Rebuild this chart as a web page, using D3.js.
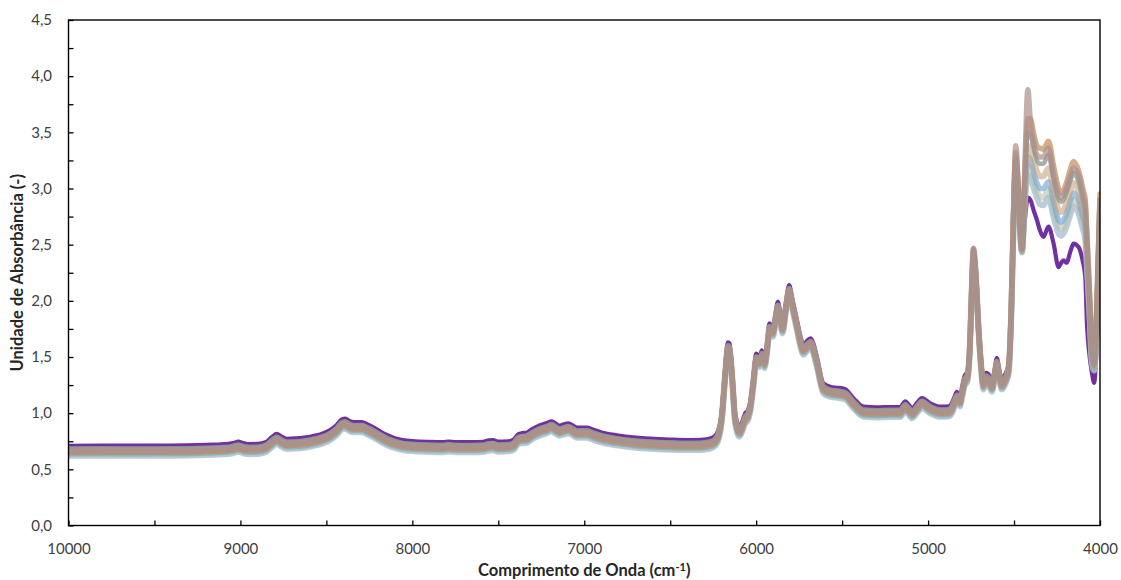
<!DOCTYPE html>
<html>
<head>
<meta charset="utf-8">
<script src="https://cdn.jsdelivr.net/npm/d3@7"></script>
<style>
  html, body { margin: 0; padding: 0; background: #fff; }
  svg { display: block; }
  text { font-family: Lato, "Open Sans", sans-serif; }
</style>
</head>
<body>
<svg id="chart" width="1121" height="580"></svg>
<script>
// Wavenumber grid (cm-1), shared by every spectrum, high to low
const wavenumbers = [
  10000,9800,9600,9400,9250,9150,9070,9040,9012,8985,
  8950,8900,8850,8815,8789,8760,8731,8680,8620,8576,
  8520,8478,8440,8410,8390,8365,8343,8294,8260,8227,
  8190,8149,8110,8071,8000,7900,7820,7790,7750,7650,
  7587,7555,7530,7500,7440,7410,7385,7360,7335,7305,
  7257,7220,7189,7165,7145,7120,7092,7065,7043,7010,
  6985,6950,6908,6811,6700,6617,6500,6400,6326,6280,
  6245,6220,6200,6180,6165,6155,6140,6122,6097,6080,
  6064,6050,6035,6016,6000,5981,5967,5952,5935,5923,
  5903,5888,5874,5860,5847,5828,5808,5790,5763,5745,
  5725,5700,5682,5665,5647,5609,5570,5520,5482,5434,
  5376,5298,5220,5162,5133,5110,5094,5065,5036,4988,
  4930,4880,4862,4845,4832,4815,4800,4788,4772,4758,
  4745,4736,4725,4707,4690,4678,4662,4650,4629,4614,
  4600,4585,4571,4550,4532,4515,4503,4490,4475,4454,
  4435,4420,4405,4385,4367,4350,4329,4300,4270,4241,
  4225,4212,4195,4170,4154,4125,4100,4086,4076,4060,
  4047,4034,4018,4000
];

// Highlighted sample (drawn in purple)
const sampleHighlight = [
  0.710,0.712,0.711,0.712,0.715,0.720,0.726,0.735,0.746,0.733,
  0.725,0.727,0.745,0.790,0.815,0.790,0.772,0.775,0.785,0.797,
  0.820,0.850,0.895,0.945,0.952,0.930,0.920,0.920,0.900,0.874,
  0.840,0.806,0.782,0.765,0.752,0.745,0.743,0.748,0.743,0.742,
  0.745,0.758,0.760,0.746,0.750,0.765,0.812,0.822,0.826,0.856,
  0.892,0.910,0.928,0.905,0.889,0.900,0.910,0.890,0.871,0.872,
  0.872,0.855,0.833,0.803,0.782,0.773,0.765,0.761,0.762,0.770,
  0.790,0.850,1.020,1.400,1.630,1.620,1.380,1.000,0.880,0.930,
  1.000,1.020,1.100,1.330,1.530,1.500,1.560,1.490,1.650,1.800,
  1.770,1.880,1.990,1.900,1.800,1.980,2.140,2.020,1.830,1.700,
  1.610,1.650,1.667,1.610,1.503,1.266,1.236,1.225,1.213,1.133,
  1.058,1.052,1.055,1.055,1.105,1.070,1.043,1.090,1.135,1.088,
  1.058,1.060,1.088,1.150,1.190,1.150,1.250,1.330,1.370,1.600,
  2.150,2.440,2.300,1.800,1.450,1.300,1.360,1.350,1.280,1.380,
  1.490,1.380,1.300,1.350,1.440,2.000,2.700,3.250,2.900,2.450,
  2.750,2.920,2.900,2.800,2.720,2.630,2.570,2.660,2.510,2.300,
  2.340,2.360,2.340,2.450,2.510,2.480,2.350,2.220,1.800,1.500,
  1.360,1.270,1.650,2.250
];

// Remaining samples of the set
const sampleA = [
  0.685,0.687,0.686,0.687,0.690,0.695,0.701,0.710,0.721,0.708,
  0.700,0.702,0.720,0.765,0.790,0.765,0.747,0.750,0.760,0.772,
  0.795,0.825,0.870,0.920,0.927,0.905,0.895,0.895,0.875,0.849,
  0.815,0.781,0.757,0.740,0.727,0.720,0.718,0.723,0.718,0.717,
  0.720,0.733,0.735,0.721,0.725,0.740,0.787,0.797,0.801,0.831,
  0.867,0.885,0.903,0.880,0.864,0.875,0.885,0.865,0.846,0.847,
  0.847,0.830,0.808,0.778,0.757,0.748,0.740,0.736,0.737,0.745,
  0.765,0.825,0.995,1.375,1.605,1.595,1.355,0.975,0.855,0.905,
  0.975,0.995,1.075,1.305,1.505,1.475,1.535,1.465,1.625,1.775,
  1.745,1.855,1.965,1.875,1.775,1.955,2.115,1.995,1.805,1.675,
  1.585,1.625,1.642,1.585,1.478,1.241,1.211,1.200,1.188,1.108,
  1.033,1.027,1.030,1.030,1.080,1.045,1.018,1.065,1.110,1.063,
  1.033,1.035,1.063,1.125,1.165,1.125,1.225,1.305,1.345,1.590,
  2.160,2.470,2.310,1.790,1.425,1.275,1.335,1.325,1.255,1.355,
  1.465,1.355,1.275,1.325,1.420,1.990,2.720,3.280,2.950,2.450,
  3.150,3.500,3.480,3.350,3.250,3.220,3.220,3.300,3.080,2.900,
  2.880,2.900,2.960,3.080,3.140,3.060,2.900,2.800,2.500,1.950,
  1.520,1.420,1.900,2.850
];

const sampleB = [
  0.665,0.667,0.666,0.667,0.670,0.675,0.681,0.690,0.701,0.688,
  0.680,0.682,0.700,0.745,0.770,0.745,0.727,0.730,0.740,0.752,
  0.775,0.805,0.850,0.900,0.907,0.885,0.875,0.875,0.855,0.829,
  0.795,0.761,0.737,0.720,0.707,0.700,0.698,0.703,0.698,0.697,
  0.700,0.713,0.715,0.701,0.705,0.720,0.767,0.777,0.781,0.811,
  0.847,0.865,0.883,0.860,0.844,0.855,0.865,0.845,0.826,0.827,
  0.827,0.810,0.788,0.758,0.737,0.728,0.720,0.716,0.717,0.725,
  0.745,0.805,0.975,1.355,1.585,1.575,1.335,0.955,0.835,0.885,
  0.955,0.975,1.055,1.285,1.485,1.455,1.515,1.445,1.605,1.755,
  1.725,1.835,1.945,1.855,1.755,1.935,2.095,1.975,1.785,1.655,
  1.565,1.605,1.622,1.565,1.458,1.221,1.191,1.180,1.168,1.088,
  1.013,1.007,1.010,1.010,1.060,1.025,0.998,1.045,1.090,1.043,
  1.013,1.015,1.043,1.105,1.145,1.105,1.205,1.285,1.325,1.570,
  2.140,2.460,2.290,1.780,1.405,1.255,1.315,1.305,1.235,1.335,
  1.445,1.335,1.255,1.305,1.400,1.990,2.780,3.380,3.000,2.460,
  3.300,3.880,3.600,3.400,3.300,3.280,3.280,3.360,3.120,2.940,
  2.920,2.940,3.000,3.120,3.180,3.120,2.950,2.850,2.550,2.000,
  1.550,1.440,1.950,2.900
];

const sampleC = [
  0.650,0.652,0.651,0.652,0.655,0.660,0.666,0.675,0.686,0.673,
  0.665,0.667,0.685,0.730,0.755,0.730,0.712,0.715,0.725,0.737,
  0.760,0.790,0.835,0.885,0.892,0.870,0.860,0.860,0.840,0.814,
  0.780,0.746,0.722,0.705,0.692,0.685,0.683,0.688,0.683,0.682,
  0.685,0.698,0.700,0.686,0.690,0.705,0.752,0.762,0.766,0.796,
  0.832,0.850,0.868,0.845,0.829,0.840,0.850,0.830,0.811,0.812,
  0.812,0.795,0.773,0.743,0.722,0.713,0.705,0.701,0.702,0.710,
  0.730,0.790,0.960,1.340,1.570,1.560,1.320,0.940,0.820,0.870,
  0.940,0.960,1.040,1.270,1.470,1.440,1.500,1.430,1.590,1.740,
  1.710,1.820,1.930,1.840,1.740,1.920,2.080,1.960,1.770,1.640,
  1.550,1.590,1.607,1.550,1.443,1.206,1.176,1.165,1.153,1.073,
  0.998,0.992,0.995,0.995,1.045,1.010,0.983,1.030,1.075,1.028,
  0.998,1.000,1.028,1.090,1.130,1.090,1.190,1.270,1.310,1.560,
  2.130,2.440,2.280,1.770,1.390,1.240,1.300,1.290,1.220,1.320,
  1.430,1.320,1.240,1.290,1.380,1.980,2.750,3.320,3.000,2.470,
  3.200,3.620,3.620,3.480,3.380,3.360,3.350,3.420,3.200,3.000,
  2.960,2.980,3.050,3.180,3.240,3.160,3.000,2.900,2.600,2.050,
  1.600,1.460,2.000,2.950
];

const sampleD = [
  0.638,0.640,0.639,0.640,0.643,0.648,0.654,0.663,0.674,0.661,
  0.653,0.655,0.673,0.718,0.743,0.718,0.700,0.703,0.713,0.725,
  0.748,0.778,0.823,0.873,0.880,0.858,0.848,0.848,0.828,0.802,
  0.768,0.734,0.710,0.693,0.680,0.673,0.671,0.676,0.671,0.670,
  0.673,0.686,0.688,0.674,0.678,0.693,0.740,0.750,0.754,0.784,
  0.820,0.838,0.856,0.833,0.817,0.828,0.838,0.818,0.799,0.800,
  0.800,0.783,0.761,0.731,0.710,0.701,0.693,0.689,0.690,0.698,
  0.718,0.778,0.948,1.328,1.558,1.548,1.308,0.928,0.808,0.858,
  0.928,0.948,1.028,1.258,1.458,1.428,1.488,1.418,1.578,1.728,
  1.698,1.808,1.918,1.828,1.728,1.908,2.068,1.948,1.758,1.628,
  1.538,1.578,1.595,1.538,1.431,1.194,1.164,1.153,1.141,1.061,
  0.986,0.980,0.983,0.983,1.033,0.998,0.971,1.018,1.063,1.016,
  0.986,0.988,1.016,1.078,1.118,1.078,1.178,1.258,1.298,1.550,
  2.120,2.430,2.270,1.760,1.378,1.228,1.288,1.278,1.208,1.308,
  1.418,1.308,1.228,1.278,1.370,1.950,2.700,3.220,2.920,2.440,
  3.000,3.280,3.260,3.140,3.050,3.000,3.000,3.060,2.880,2.720,
  2.700,2.720,2.780,2.900,2.960,2.900,2.750,2.660,2.400,1.900,
  1.480,1.400,1.850,2.800
];

const sampleE = [
  0.620,0.622,0.621,0.622,0.625,0.630,0.636,0.645,0.656,0.643,
  0.635,0.637,0.655,0.700,0.725,0.700,0.682,0.685,0.695,0.707,
  0.730,0.760,0.805,0.855,0.862,0.840,0.830,0.830,0.810,0.784,
  0.750,0.716,0.692,0.675,0.662,0.655,0.653,0.658,0.653,0.652,
  0.655,0.668,0.670,0.656,0.660,0.675,0.722,0.732,0.736,0.766,
  0.802,0.820,0.838,0.815,0.799,0.810,0.820,0.800,0.781,0.782,
  0.782,0.765,0.743,0.713,0.692,0.683,0.675,0.671,0.672,0.680,
  0.700,0.760,0.930,1.310,1.540,1.530,1.290,0.910,0.790,0.840,
  0.910,0.930,1.010,1.240,1.440,1.410,1.470,1.400,1.560,1.710,
  1.680,1.790,1.900,1.810,1.710,1.890,2.050,1.930,1.740,1.610,
  1.520,1.560,1.577,1.520,1.413,1.176,1.146,1.135,1.123,1.043,
  0.968,0.962,0.965,0.965,1.015,0.980,0.953,1.000,1.045,0.998,
  0.968,0.970,0.998,1.060,1.100,1.060,1.160,1.240,1.280,1.530,
  2.100,2.400,2.250,1.740,1.360,1.210,1.270,1.260,1.190,1.290,
  1.400,1.290,1.210,1.260,1.350,1.930,2.680,3.180,2.880,2.430,
  2.920,3.120,3.100,3.000,2.920,2.860,2.850,2.920,2.750,2.600,
  2.580,2.600,2.660,2.780,2.840,2.780,2.640,2.550,2.300,1.850,
  1.450,1.380,1.800,2.750
];

const sampleF = [
  0.675,0.677,0.676,0.677,0.680,0.685,0.691,0.700,0.711,0.698,
  0.690,0.692,0.710,0.755,0.780,0.755,0.737,0.740,0.750,0.762,
  0.785,0.815,0.860,0.910,0.917,0.895,0.885,0.885,0.865,0.839,
  0.805,0.771,0.747,0.730,0.717,0.710,0.708,0.713,0.708,0.707,
  0.710,0.723,0.725,0.711,0.715,0.730,0.777,0.787,0.791,0.821,
  0.857,0.875,0.893,0.870,0.854,0.865,0.875,0.855,0.836,0.837,
  0.837,0.820,0.798,0.768,0.747,0.738,0.730,0.726,0.727,0.735,
  0.755,0.815,0.985,1.365,1.595,1.585,1.345,0.965,0.845,0.895,
  0.965,0.985,1.065,1.295,1.495,1.465,1.525,1.455,1.615,1.765,
  1.735,1.845,1.955,1.865,1.765,1.945,2.105,1.985,1.795,1.665,
  1.575,1.615,1.632,1.575,1.468,1.231,1.201,1.190,1.178,1.098,
  1.023,1.017,1.020,1.020,1.070,1.035,1.008,1.055,1.100,1.053,
  1.023,1.025,1.053,1.115,1.155,1.115,1.215,1.295,1.335,1.580,
  2.150,2.465,2.300,1.785,1.415,1.265,1.325,1.315,1.245,1.345,
  1.455,1.345,1.265,1.315,1.405,1.970,2.710,3.250,2.930,2.445,
  3.080,3.380,3.370,3.250,3.150,3.110,3.110,3.180,2.980,2.810,
  2.790,2.810,2.870,2.990,3.050,2.980,2.820,2.730,2.450,1.920,
  1.500,1.410,1.880,2.830
];

const sampleG = [
  0.630,0.632,0.631,0.632,0.635,0.640,0.646,0.655,0.666,0.653,
  0.645,0.647,0.665,0.710,0.735,0.710,0.692,0.695,0.705,0.717,
  0.740,0.770,0.815,0.865,0.872,0.850,0.840,0.840,0.820,0.794,
  0.760,0.726,0.702,0.685,0.672,0.665,0.663,0.668,0.663,0.662,
  0.665,0.678,0.680,0.666,0.670,0.685,0.732,0.742,0.746,0.776,
  0.812,0.830,0.848,0.825,0.809,0.820,0.830,0.810,0.791,0.792,
  0.792,0.775,0.753,0.723,0.702,0.693,0.685,0.681,0.682,0.690,
  0.710,0.770,0.940,1.320,1.550,1.540,1.300,0.920,0.800,0.850,
  0.920,0.940,1.020,1.250,1.450,1.420,1.480,1.410,1.570,1.720,
  1.690,1.800,1.910,1.820,1.720,1.900,2.060,1.940,1.750,1.620,
  1.530,1.570,1.587,1.530,1.423,1.186,1.156,1.145,1.133,1.053,
  0.978,0.972,0.975,0.975,1.025,0.990,0.963,1.010,1.055,1.008,
  0.978,0.980,1.008,1.070,1.110,1.070,1.170,1.250,1.290,1.540,
  2.110,2.415,2.260,1.750,1.370,1.220,1.280,1.270,1.200,1.300,
  1.410,1.300,1.220,1.270,1.360,1.940,2.690,3.200,2.900,2.435,
  2.960,3.200,3.180,3.070,2.980,2.930,2.920,2.990,2.810,2.660,
  2.640,2.660,2.720,2.840,2.900,2.840,2.700,2.600,2.350,1.870,
  1.460,1.390,1.820,2.780
];

// Axis ticks and labels
const xTicks = [10000, 9000, 8000, 7000, 6000, 5000, 4000];
const xTickLabels = ["10000", "9000", "8000", "7000", "6000", "5000", "4000"];
const xMinorTicks = [9500, 8500, 7500, 6500, 5500, 4500];
const yTicks = [0, 0.5, 1, 1.5, 2, 2.5, 3, 3.5, 4, 4.5];
const yTickLabels = ["0,0", "0,5", "1,0", "1,5", "2,0", "2,5", "3,0", "3,5", "4,0", "4,5"];
const yMinorTicks = [0.25, 0.75, 1.25, 1.75, 2.25, 2.75, 3.25, 3.75, 4.25];

// Drawing order and look of each spectrum (first drawn = bottom layer)
const seriesStyle = [
  { values: sampleHighlight, color: "#7030A0", width: 4.2, opacity: 1 },
  { values: sampleE, color: "#A9BFD5", width: 6, opacity: 0.8 },
  { values: sampleG, color: "#B7C2AA", width: 6, opacity: 0.6 },
  { values: sampleD, color: "#72A7D2", width: 5.5, opacity: 0.65 },
  { values: sampleF, color: "#C9A47F", width: 6, opacity: 0.6 },
  { values: sampleC, color: "#C28A5A", width: 5.5, opacity: 0.7 },
  { values: sampleA, color: "#8F9C91", width: 4.5, opacity: 0.8 },
  { values: sampleB, color: "#AC8D8C", width: 5.5, opacity: 0.7 }
];

const svg = d3.select("#chart");
const plot = { left: 68.5, right: 1100, top: 20, bottom: 525.5 };

const x = d3.scaleLinear().domain([10000, 4000]).range([plot.left, plot.right]);
const y = d3.scaleLinear().domain([0, 4.5]).range([plot.bottom, plot.top]);

svg.append("defs").append("clipPath").attr("id", "plotClip")
  .append("rect")
  .attr("x", plot.left).attr("y", plot.top)
  .attr("width", plot.right - plot.left).attr("height", plot.bottom - plot.top);

// Spectra
const line = d3.line()
  .x((d, i) => x(wavenumbers[i]))
  .y(d => y(d))
  .curve(d3.curveMonotoneX);

const linesG = svg.append("g").attr("clip-path", "url(#plotClip)");
seriesStyle.forEach(s => {
  linesG.append("path")
    .datum(s.values)
    .attr("d", line)
    .attr("fill", "none")
    .attr("stroke", s.color)
    .attr("stroke-width", s.width)
    .attr("stroke-opacity", s.opacity)
    .attr("stroke-linejoin", "round")
    .attr("stroke-linecap", "round");
});

// Axes (ticks point inward)
const tickColor = "#000";
const labelColor = "#404040";

function styleAxis(g) {
  g.select(".domain").remove();
  g.selectAll(".tick line").attr("stroke", tickColor).attr("stroke-width", 1.3);
  g.selectAll(".tick text")
    .attr("fill", labelColor)
    .style("font-size", "15px")
    .style("font-family", "Lato, 'Open Sans', sans-serif");
}

svg.append("g")
  .attr("transform", `translate(0,${plot.bottom})`)
  .call(d3.axisBottom(x).tickValues(xTicks)
    .tickFormat((d, i) => xTickLabels[i]).tickSize(-5).tickPadding(18))
  .call(styleAxis);

svg.append("g")
  .attr("transform", `translate(0,${plot.bottom})`)
  .call(d3.axisBottom(x).tickValues(xMinorTicks).tickFormat(() => "").tickSize(-5))
  .call(styleAxis);

svg.append("g")
  .attr("transform", `translate(${plot.left},0)`)
  .call(d3.axisLeft(y).tickValues(yTicks)
    .tickFormat((d, i) => yTickLabels[i]).tickSize(-5).tickPadding(16.5))
  .call(styleAxis);

svg.append("g")
  .attr("transform", `translate(${plot.left},0)`)
  .call(d3.axisLeft(y).tickValues(yMinorTicks).tickFormat(() => "").tickSize(-5))
  .call(styleAxis);

// Plot-area frame
svg.append("rect")
  .attr("x", plot.left).attr("y", plot.top)
  .attr("width", plot.right - plot.left).attr("height", plot.bottom - plot.top)
  .attr("fill", "none").attr("stroke", "#000").attr("stroke-width", 1.4);

// Axis titles
const xTitle = svg.append("text")
  .attr("x", (plot.left + plot.right) / 2)
  .attr("y", 576)
  .attr("text-anchor", "middle")
  .attr("fill", "#262626")
  .style("font-size", "16.5px")
  .style("font-weight", "bold");
xTitle.append("tspan").text("Comprimento de Onda (cm");
xTitle.append("tspan").attr("dy", "-5.5").style("font-size", "11px").text("-1");
xTitle.append("tspan").attr("dy", "5.5").text(")");

svg.append("text")
  .attr("transform", `translate(17,${(plot.top + plot.bottom) / 2}) rotate(-90)`)
  .attr("text-anchor", "middle")
  .attr("dominant-baseline", "central")
  .attr("fill", "#262626")
  .style("font-size", "16.5px")
  .style("font-weight", "bold")
  .text("Unidade de Absorbância (-)");
</script>
</body>
</html>
